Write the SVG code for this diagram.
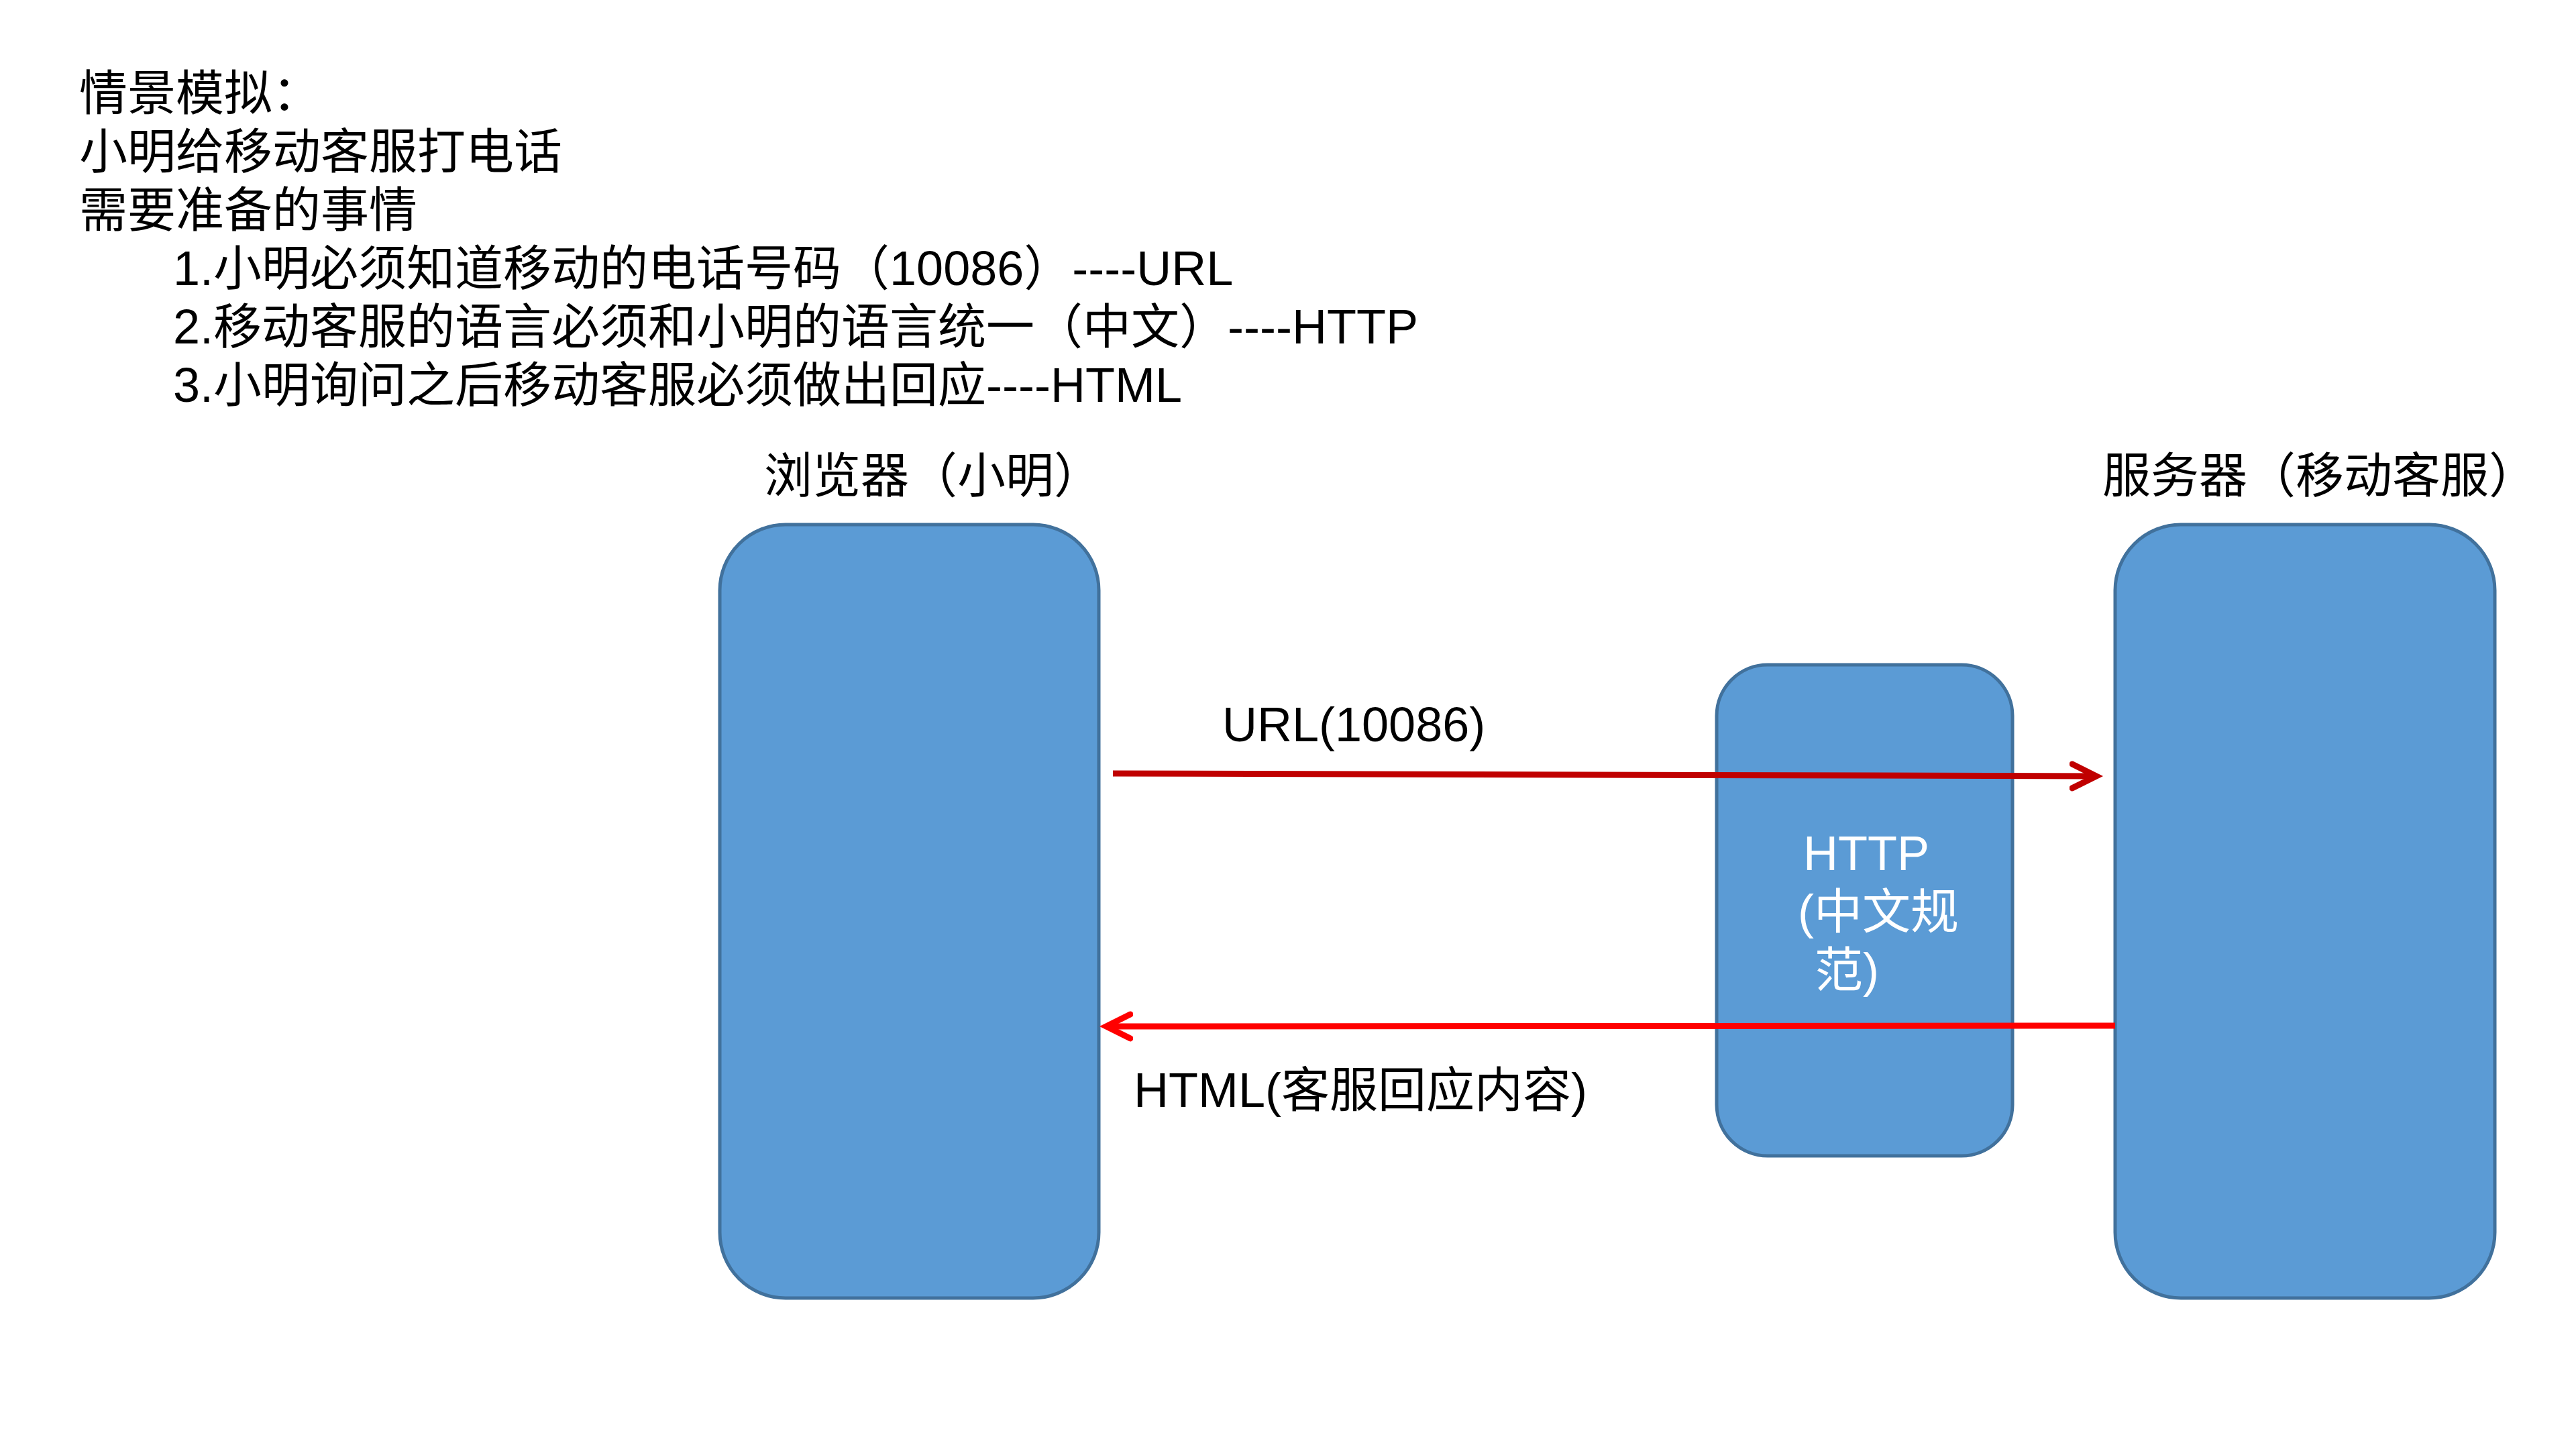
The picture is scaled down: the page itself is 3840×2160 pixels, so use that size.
<svg xmlns="http://www.w3.org/2000/svg" width="3840" height="2160" viewBox="0 0 3840 2160">
<defs>
<style>
.t{font-family:"Liberation Sans","Noto Sans CJK SC",sans-serif;font-size:72px;fill:#000}
.w{fill:#fff}
.box{fill:#5B9BD5;stroke:#41719C;stroke-width:5}
.a{fill:none;stroke-width:9}
</style>
<marker id="m1" markerUnits="userSpaceOnUse" markerWidth="60" markerHeight="60" refX="40" refY="20" orient="auto" viewBox="0 0 60 40">
<path d="M4,2 L40,20 L4,38" fill="none" stroke="#C00000" stroke-width="9" stroke-linecap="round" stroke-linejoin="miter"/>
</marker>
<marker id="m2" markerUnits="userSpaceOnUse" markerWidth="60" markerHeight="60" refX="40" refY="20" orient="auto" viewBox="0 0 60 40">
<path d="M4,2 L40,20 L4,38" fill="none" stroke="#FF0000" stroke-width="9" stroke-linecap="round" stroke-linejoin="miter"/>
</marker>
</defs>
<rect width="3840" height="2160" fill="#fff"/>
<g id="intro">
<text class="t" x="118" y="164">情景模拟：</text>
<text class="t" x="118" y="251">小明给移动客服打电话</text>
<text class="t" x="118" y="338">需要准备的事情</text>
<text class="t" x="258" y="425">1.小明必须知道移动的电话号码（10086）----URL</text>
<text class="t" x="258" y="512">2.移动客服的语言必须和小明的语言统一（中文）----HTTP</text>
<text class="t" x="258" y="599">3.小明询问之后移动客服必须做出回应----HTML</text>
</g>
<g id="browser">
<text class="t" x="1139" y="734">浏览器（小明）</text>
<rect class="box" x="1073" y="782" width="565" height="1153" rx="98" ry="98"/>
</g>
<g id="server">
<text class="t" x="3134" y="734">服务器（移动客服）</text>
<rect class="box" x="3153" y="782" width="566" height="1153" rx="98" ry="98"/>
</g>
<g id="http">
<rect class="box" x="2559" y="991" width="441" height="732" rx="76" ry="76"/>
<text class="t w" x="2688" y="1297">HTTP</text>
<text class="t w" x="2680" y="1384">(中文规</text>
<text class="t w" x="2705" y="1471">范)</text>
</g>
<g id="connectors">
<line class="a" x1="1659" y1="1153" x2="3125" y2="1157" stroke="#C00000" marker-end="url(#m1)"/>
<line class="a" x1="3153" y1="1529" x2="1649" y2="1530" stroke="#FF0000" marker-end="url(#m2)"/>
<text class="t" x="1822" y="1105">URL(10086)</text>
<text class="t" x="1690" y="1650">HTML(客服回应内容)</text>
</g>
</svg>
